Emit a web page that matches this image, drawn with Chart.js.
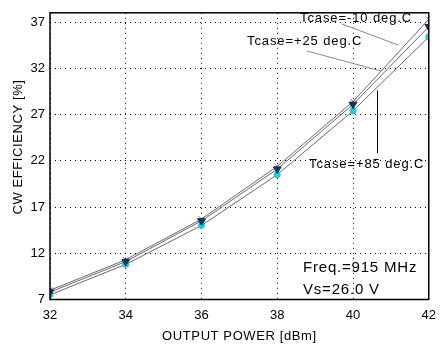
<!DOCTYPE html>
<html>
<head>
<meta charset="utf-8">
<script src="https://cdn.jsdelivr.net/npm/chart.js@4.4.0/dist/chart.umd.min.js"></script>
<style>
  html, body { margin: 0; padding: 0; background: #fff; }
  #wrap { width: 444px; height: 348px; }
</style>
</head>
<body>
<div id="wrap"><canvas id="chart" width="444" height="348"></canvas></div>
<script>
// output power [dBm]
const power = [32, 34, 36, 38, 40, 42];
// CW efficiency [%] per case temperature
const effM10 = [8.0, 11.3, 15.7, 21.4, 28.4, 37.3];
const effP25 = [7.8, 11.1, 15.5, 21.1, 28.1, 36.5];
const effP85 = [7.5, 10.8, 15.0, 20.5, 27.4, 35.4];
const yTicks = [7, 12, 17, 22, 27, 32, 37];
const xTicks = [32, 34, 36, 38, 40, 42];

const FONT = "Liberation Sans, Arial, sans-serif";

function toPoints(ys) {
    return power.map((x, i) => ({ x: x, y: ys[i] }));
}

// draws titles, notes and the frame
const extras = {
    id: "extras",
    afterDraw(chart) {
        const ctx = chart.ctx;
        const a = chart.chartArea;
        const ys = chart.scales.y;
        ctx.save();
        ctx.fillStyle = "#000";
        ctx.font = "13px " + FONT;
        ctx.textBaseline = "middle";

        // axis titles
        ctx.textAlign = "center";
        ctx.letterSpacing = "0.6px";
        ctx.fillText("OUTPUT POWER [dBm]", (a.left + a.right) / 2, 336);
        ctx.save();
        ctx.translate(18, 147);
        ctx.rotate(-Math.PI / 2);
        ctx.fillText("CW EFFICIENCY [%]", 0, 0);
        ctx.restore();

        // curve labels
        ctx.textAlign = "left";
        ctx.letterSpacing = "0.9px";
        ctx.fillText("Tcase=-10 deg.C", 300, 18);
        ctx.fillText("Tcase=+25 deg.C", 247, 41);
        ctx.fillText("Tcase=+85 deg.C", 309, 164);

        ctx.font = "15px " + FONT;
        ctx.letterSpacing = "0.8px";
        ctx.fillText("Freq.=915 MHz", 303, 268);
        ctx.fillText("Vs=26.0 V", 303, 290);
        ctx.letterSpacing = "0px";

        // leader lines
        ctx.strokeStyle = "#888";
        ctx.lineWidth = 1;
        ctx.beginPath();
        ctx.moveTo(342, 24);
        ctx.lineTo(398, 45);
        ctx.moveTo(307, 51);
        ctx.lineTo(381, 71);
        ctx.stroke();
        ctx.strokeStyle = "#000";
        ctx.beginPath();
        ctx.moveTo(377.5, ys.getPixelForValue(29.6));
        ctx.lineTo(377.5, 153);
        ctx.stroke();

        // frame
        ctx.lineWidth = 1.5;
        ctx.strokeRect(a.left, a.top, a.right - a.left, a.bottom - a.top);
        ctx.restore();
    }
};

const lineColor = "#6a6a6a";

new Chart(document.getElementById("chart"), {
    type: "line",
    data: {
        datasets: [
            {
                label: "Tcase=-10 deg.C",
                data: toPoints(effM10),
                borderColor: lineColor,
                borderWidth: 1,
                pointStyle: "crossRot",
                pointRadius: 4,
                pointBorderColor: "#777",
                pointBorderWidth: 1,
                order: 3
            },
            {
                label: "Tcase=+25 deg.C",
                data: toPoints(effP25),
                borderColor: lineColor,
                borderWidth: 1,
                pointStyle: "triangle",
                rotation: 180,
                pointRadius: 4.5,
                pointBackgroundColor: "#0c3560",
                pointBorderColor: "#0c3560",
                pointBorderWidth: 1,
                order: 1
            },
            {
                label: "Tcase=+85 deg.C",
                data: toPoints(effP85),
                borderColor: lineColor,
                borderWidth: 1,
                pointStyle: "circle",
                pointRadius: 3,
                pointBackgroundColor: "#22d3e3",
                pointBorderColor: "#1ab8c8",
                pointBorderWidth: 1,
                order: 2
            }
        ]
    },
    options: {
        responsive: false,
        animation: false,
        layout: { padding: { top: 6, right: 12, left: 0, bottom: 0 } },
        plugins: { legend: { display: false }, tooltip: { enabled: false } },
        scales: {
            x: {
                type: "linear",
                min: 32,
                max: 42,
                afterBuildTicks: (s) => { s.ticks = xTicks.map(v => ({ value: v })); },
                afterFit: (s) => { s.height = 48.5; },
                grid: {
                    color: "#000",
                    lineWidth: 1,
                    drawTicks: false,
                    tickLength: 0
                },
                border: { display: false, dash: [1, 4] },
                ticks: {
                    color: "#000",
                    font: { family: FONT, size: 13 },
                    padding: 8,
                    maxRotation: 0
                }
            },
            y: {
                min: 7,
                max: 38,
                afterBuildTicks: (s) => { s.ticks = yTicks.map(v => ({ value: v })); },
                afterFit: (s) => { s.width = 50; },
                grid: {
                    color: "#000",
                    lineWidth: 1,
                    drawTicks: false,
                    tickLength: 0
                },
                border: { display: false, dash: [1, 4] },
                ticks: {
                    color: "#000",
                    font: { family: FONT, size: 13 },
                    padding: 5
                }
            }
        }
    },
    plugins: [extras]
});
</script>
</body>
</html>
